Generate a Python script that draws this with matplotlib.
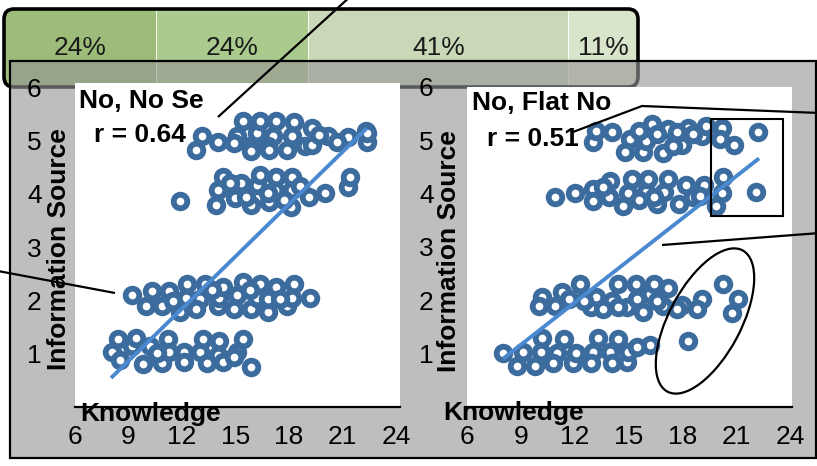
import matplotlib
matplotlib.use('Agg')
import matplotlib.pyplot as plt
from matplotlib.patches import Rectangle, Ellipse, FancyBboxPatch

plt.rcParams['font.family'] = ['Liberation Sans', 'DejaVu Sans']

W, H = 817, 466

# ---------------- data ----------------
share_labels = ['24%', '24%', '41%', '11%']
share_values = [24, 24, 41, 11]
share_colors = ['#9dbc79', '#abcb8e', '#c9d9b8', '#d9e5cb']

x_ticks = [6, 9, 12, 15, 18, 21, 24]
y_ticks = [1, 2, 3, 4, 5, 6]

left_title = 'No, No Se'
left_r = 'r = 0.64'
left_know = [
    12.8, 13.1, 14.0, 15.1, 15.4, 15.8, 16.2, 16.4, 17.1, 17.3, 17.9, 18.2, 18.3, 18.9,
    19.3, 20.2, 21.3, 22.3, 22.4, 14.9, 16.8, 19.3, 19.7, 20.7, 22.4, 15.9, 16.9,
    11.9, 13.9, 14.0, 14.3, 15.0, 15.3, 15.9, 16.2, 16.4, 16.9, 17.2, 17.3, 18.1, 18.2,
    18.2, 19.1, 20.0, 21.3, 21.4, 14.7, 15.6, 16.8, 17.7, 18.6,
    9.2, 10.0, 10.3, 10.9, 11.3, 11.9, 12.2, 12.3, 13.0, 13.3, 14.0, 14.1, 14.3, 14.9,
    15.1, 15.4, 15.9, 16.2, 16.4, 16.8, 17.3, 17.9, 18.2, 18.3, 19.2, 11.5, 12.8, 13.7,
    15.8, 16.8, 17.5,
    8.1, 8.4, 9.2, 9.4, 9.8, 10.2, 10.9, 11.2, 11.3, 12.1, 12.1, 13.0, 13.2, 14.0, 14.1,
    14.3, 15.1, 15.4, 15.9, 8.5, 10.6, 13.4, 14.9]
left_info = [
    4.83, 5.08, 4.98, 5.08, 5.36, 4.89, 5.15, 5.36, 5.08, 5.36, 4.83, 5.08, 5.34, 4.89,
    5.24, 5.08, 5.06, 5.17, 4.98, 4.96, 4.89, 4.92, 5.11, 4.98, 5.15, 4.81, 4.83,
    3.86, 3.80, 4.08, 4.31, 3.93, 4.21, 3.80, 4.17, 4.36, 3.84, 4.08, 4.32, 3.76, 4.08,
    4.32, 3.95, 4.02, 4.12, 4.32, 4.21, 3.95, 4.02, 3.89, 4.14,
    2.11, 1.89, 2.17, 1.89, 2.17, 1.79, 2.05, 2.30, 2.02, 2.30, 1.89, 2.05, 2.26, 1.83,
    2.11, 2.34, 1.83, 2.05, 2.30, 1.79, 2.26, 1.89, 2.05, 2.30, 2.05, 1.98, 1.83, 2.20,
    2.20, 2.02, 2.02,
    1.04, 1.27, 1.14, 1.30, 0.80, 1.14, 0.83, 1.27, 1.04, 1.04, 0.85, 1.04, 1.27, 0.98, 1.23,
    0.85, 1.04, 1.27, 0.76, 0.89, 1.02, 0.83, 0.93]
left_trend_x = [8.1, 22.3]
left_trend_y = [0.57, 5.21]

right_title = 'No, Flat No'
right_r = 'r = 0.51'
right_know = [
    13.0, 13.2, 14.1, 14.8, 15.1, 15.8, 16.0, 16.3, 16.9, 17.2, 18.0, 18.3, 19.1, 19.3,
    20.2, 20.1, 20.9, 22.2, 15.6, 16.6, 17.7, 18.6, 17.5,
    10.9, 12.0, 13.0, 13.0, 13.9, 14.0, 14.7, 15.0, 15.2, 16.0, 16.1, 16.6, 17.0, 17.2,
    17.8, 18.2, 19.2, 19.9, 20.3, 20.2, 22.1, 13.6, 15.6, 16.4, 18.6, 19.0,
    10.2, 10.0, 10.9, 11.3, 12.3, 12.9, 13.2, 14.1, 14.4, 14.9, 15.4, 15.8, 16.2, 16.4,
    16.9, 17.2, 18.0, 19.1, 18.8, 20.3, 21.1, 20.8, 11.7, 12.5, 13.6, 15.5, 16.6, 17.7, 14.4,
    8.0, 8.8, 9.1, 9.8, 10.1, 10.2, 11.0, 11.4, 11.9, 13.0, 13.3, 14.0, 14.4, 14.9, 15.0,
    16.2, 18.3, 10.8, 12.1, 12.9, 14.1, 15.5]
right_info = [
    4.96, 5.17, 5.15, 4.79, 5.02, 4.79, 4.98, 5.30, 4.77, 5.21, 4.92, 5.24, 5.08, 5.26,
    5.24, 5.02, 4.92, 5.15, 5.17, 5.11, 5.15, 5.11, 4.89,
    3.93, 4.02, 4.08, 3.86, 3.93, 4.23, 3.76, 4.02, 4.27, 4.04, 4.27, 3.80, 4.04, 4.27,
    3.80, 4.17, 4.17, 3.76, 4.31, 4.02, 4.04, 4.12, 3.89, 3.93, 3.93, 3.95,
    2.07, 1.89, 1.89, 2.15, 2.30, 1.87, 2.07, 1.98, 2.30, 1.87, 2.30, 1.79, 2.11, 2.30,
    1.89, 2.24, 1.92, 2.02, 1.83, 2.30, 2.02, 1.77, 2.02, 1.98, 1.83, 2.02, 1.98, 1.83, 1.87,
    1.02, 0.76, 1.04, 0.76, 1.04, 1.30, 1.02, 1.27, 0.83, 1.04, 1.30, 1.04, 1.27, 0.85, 1.04,
    1.17, 1.23, 0.83, 1.02, 0.83, 0.83, 1.13]
right_trend_x = [8.1, 22.2]
right_trend_y = [0.93, 4.64]

x_label = 'Knowledge'
y_label = 'Information Source'

# ---------------- styles ----------------
PT_COLOR = '#3c6c9e'
TREND_COLOR = '#4a89d0'
TICK_FS = 19
LAB_FS = 19

fig = plt.figure(figsize=(W / 100, H / 100), dpi=100)
fig.patch.set_facecolor('white')


def px_axes(x0, y0, x1, y1, **kw):
    return fig.add_axes([x0 / W, 1 - y1 / H, (x1 - x0) / W, (y1 - y0) / H], **kw)


def pixel_frame(ax):
    ax.set_xlim(0, W)
    ax.set_ylim(H, 0)
    ax.axis('off')
    ax.patch.set_visible(False)


# banner (stacked 100% bar)
ax_ban = px_axes(4, 9, 638, 87, zorder=1)
lefts = [sum(share_values[:i]) for i in range(len(share_values))]
bars = ax_ban.barh([0] * len(share_values), share_values, left=lefts, height=1.0,
                   color=share_colors, edgecolor='white', linewidth=0.6)
ax_ban.bar_label(bars, labels=share_labels, label_type='center', fontsize=LAB_FS,
                 color='#1a1a1a', padding=0)
ax_ban.set_xlim(0, sum(share_values))
ax_ban.set_ylim(-0.5, 0.5)
ax_ban.axis('off')

# gray container + banner outline
ax_gray = px_axes(0, 0, W, H, zorder=2)
pixel_frame(ax_gray)
ban_box = FancyBboxPatch((4, 9), 634, 78, boxstyle='round,pad=0,rounding_size=10',
                         fc='none', ec='black', lw=2.6, zorder=1)
ax_gray.add_patch(ban_box)
for b in bars:
    b.set_clip_path(ban_box)
ax_gray.add_patch(Rectangle((10, 61), 806, 397, fc=(150 / 255, 150 / 255, 150 / 255, 0.61),
                            ec='black', lw=1.6, zorder=2))


def panel(box, xlim_hi, ylim_hi, know, info, tx, ty):
    ax = px_axes(*box, zorder=3)
    ax.set_facecolor('white')
    ax.scatter(know, info, s=96, facecolors='white', edgecolors=PT_COLOR,
               linewidths=4.2, zorder=2)
    ax.plot(tx, ty, color=TREND_COLOR, lw=2.8, zorder=3)
    ax.set_xlim(6, xlim_hi)
    ax.set_ylim(0, ylim_hi)
    ax.set_xticks(x_ticks)
    ax.set_yticks(y_ticks)
    ax.tick_params(length=0, labelsize=TICK_FS, colors='black')
    ax.tick_params(axis='y', pad=24)
    ax.tick_params(axis='x', pad=13)
    for s in ['top', 'left', 'right']:
        ax.spines[s].set_visible(False)
    ax.spines['bottom'].set_linewidth(1.6)
    ax.spines['bottom'].set_color('black')
    return ax


axL = panel((75, 83, 400, 407), 24.23, 6.08, left_know, left_info, left_trend_x, left_trend_y)
axR = panel((467, 87, 792, 407), 24.12, 6.0, right_know, right_info, right_trend_x, right_trend_y)

# overlay annotations
ov = px_axes(0, 0, W, H, zorder=5)
pixel_frame(ov)
bold = dict(fontsize=LAB_FS, fontweight='bold', color='black')
ov.text(79, 108, left_title, ha='left', va='baseline', **bold)
ov.text(94, 142, left_r, ha='left', va='baseline', **bold)
ov.text(472, 110, right_title, ha='left', va='baseline', **bold)
ov.text(487, 146, right_r, ha='left', va='baseline', **bold)
ov.text(80, 421, x_label, ha='left', va='baseline', **bold)
ov.text(443, 420, x_label, ha='left', va='baseline', **bold)
ov.text(59, 249, y_label, ha='center', va='center', rotation=90, **bold)
ov.text(449, 251, y_label, ha='center', va='center', rotation=90, **bold)

lk = dict(color='black', lw=1.6, solid_capstyle='butt')
ov.plot([218, 352], [117, -5], **lk)
ov.plot([-2, 115], [271, 293], **lk)
ov.plot([573, 642, 820], [132, 106, 113], **lk)
ov.plot([662, 820], [245, 233], **lk)
ov.add_patch(Rectangle((711, 119), 72, 97, fc='none', ec='black', lw=1.5))
ov.add_patch(Ellipse((705, 321), 160, 72, angle=-62, fc='none', ec='black', lw=1.6))

fig.savefig('out.png', dpi=100)
